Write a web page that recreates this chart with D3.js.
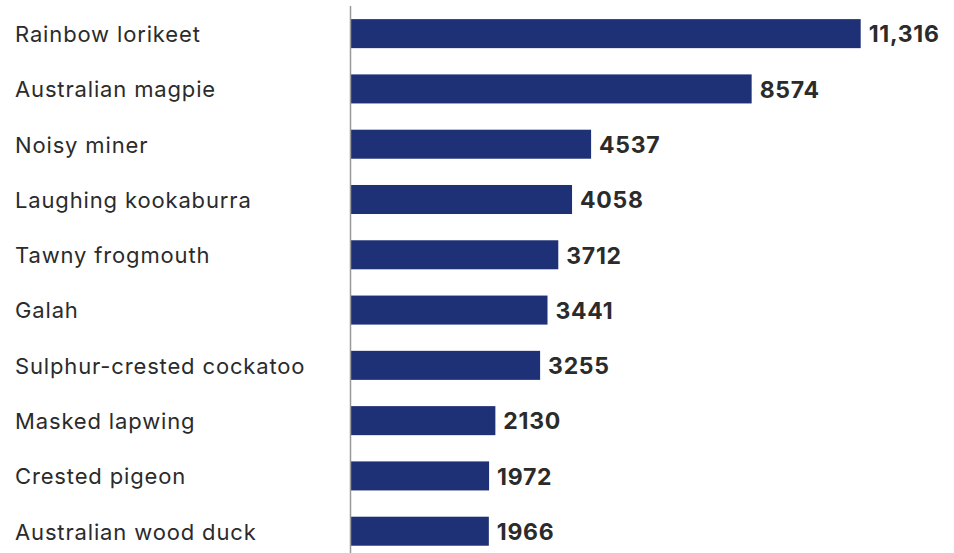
<!DOCTYPE html>
<html>
<head>
<meta charset="utf-8">
<script src="https://cdn.jsdelivr.net/npm/d3@7"></script>
<style>
  html, body { margin: 0; padding: 0; background: #fff; }
  svg { display: block; }
</style>
</head>
<body>
<svg id="chart" width="954" height="553"></svg>
<script>
// Most commonly reported backyard birds
const species = [
  "Rainbow lorikeet",
  "Australian magpie",
  "Noisy miner",
  "Laughing kookaburra",
  "Tawny frogmouth",
  "Galah",
  "Sulphur-crested cockatoo",
  "Masked lapwing",
  "Crested pigeon",
  "Australian wood duck"
];
const counts = [11316, 8574, 4537, 4058, 3712, 3441, 3255, 2130, 1972, 1966];

const svg = d3.select("#chart");
const width = 954, height = 553;
const axisX = 351;

const x = d3.scaleLinear()
  .domain([-1500, 12000])
  .range([axisX, 887.9]);

const y = d3.scaleBand()
  .domain(species)
  .range([5.85, 559.0])
  .paddingInner(0.475)
  .paddingOuter(0.24);

const rows = species.map((s, i) => ({ name: s, value: counts[i] }));

// bars
svg.append("g")
  .selectAll("rect")
  .data(rows)
  .join("rect")
  .attr("x", x(-1500))
  .attr("y", d => y(d.name))
  .attr("width", d => x(d.value) - x(-1500))
  .attr("height", y.bandwidth())
  .attr("fill", "#1e3177");

// vertical baseline
svg.append("line")
  .attr("x1", axisX - 0.5).attr("x2", axisX - 0.5)
  .attr("y1", 6).attr("y2", height)
  .attr("stroke", "#999")
  .attr("stroke-width", 1.5);

// category labels
svg.append("g")
  .selectAll("text")
  .data(rows)
  .join("text")
  .attr("x", 15)
  .attr("y", d => y(d.name) + y.bandwidth() / 2)
  .attr("dy", "0.38em")
  .attr("font-family", "Inter, 'Noto Sans', sans-serif")
  .attr("font-size", 22)
  .attr("letter-spacing", 0.85)
  .attr("fill", "#2b2b2b")
  .text(d => d.name);

// value labels
const fmt = v => v >= 10000 ? d3.format(",")(v) : String(v);
svg.append("g")
  .selectAll("text")
  .data(rows)
  .join("text")
  .attr("x", d => x(d.value) + 8)
  .attr("y", d => y(d.name) + y.bandwidth() / 2)
  .attr("dy", "0.38em")
  .attr("font-family", "Inter, 'Liberation Sans', sans-serif")
  .attr("font-weight", 700)
  .attr("font-size", 23)
  .attr("letter-spacing", 0.7)
  .attr("fill", "#2b2b2b")
  .text(d => fmt(d.value));
</script>
</body>
</html>
